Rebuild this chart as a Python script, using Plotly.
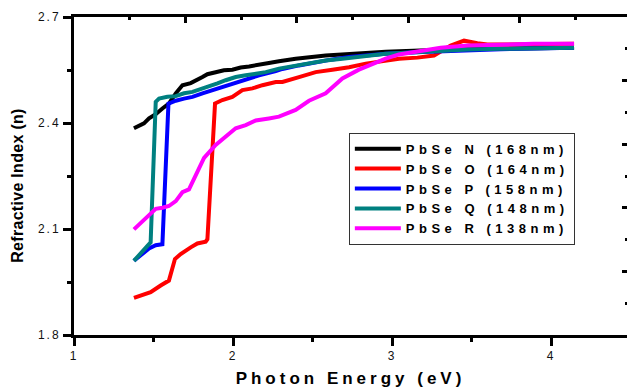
import plotly.graph_objects as go

# ---- data ----
names = ["PbSe N (168nm)", "PbSe O (164nm)", "PbSe P (158nm)", "PbSe Q (148nm)", "PbSe R (138nm)"]
colors = ["#000000", "#FF0000", "#0000FF", "#008080", "#FF00FF"]

n_E = [1.377, 1.409, 1.440, 1.472, 1.514, 1.556, 1.597, 1.640, 1.682, 1.734, 1.776, 1.808, 1.839,
       1.891, 1.943, 1.996, 2.048, 2.101, 2.164, 2.226, 2.289, 2.394, 2.583, 2.730, 2.835, 2.960,
       3.149, 3.306, 3.474, 3.684, 3.893, 4.145]
n_n = [2.385, 2.391, 2.399, 2.413, 2.425, 2.441, 2.455, 2.484, 2.507, 2.513, 2.521, 2.530, 2.538,
       2.543, 2.549, 2.551, 2.557, 2.560, 2.566, 2.570, 2.575, 2.582, 2.591, 2.594, 2.598, 2.602,
       2.606, 2.607, 2.609, 2.610, 2.612, 2.613]

o_E = [1.377, 1.482, 1.545, 1.597, 1.635, 1.671, 1.734, 1.776, 1.828, 1.839, 1.887, 1.933, 1.996,
       2.059, 2.122, 2.185, 2.269, 2.311, 2.415, 2.520, 2.625, 2.730, 2.835, 2.940, 3.044, 3.160,
       3.264, 3.369, 3.453, 3.537, 3.600, 3.684, 3.893, 4.145]
o_n = [1.905, 1.921, 1.940, 1.954, 2.015, 2.029, 2.048, 2.059, 2.064, 2.071, 2.455, 2.465, 2.474,
       2.493, 2.498, 2.507, 2.516, 2.516, 2.530, 2.544, 2.551, 2.558, 2.568, 2.575, 2.582, 2.585,
       2.591, 2.619, 2.633, 2.626, 2.622, 2.622, 2.624, 2.624]

p_E = [1.377, 1.430, 1.472, 1.514, 1.556, 1.594, 1.640, 1.692, 1.745, 1.808, 1.870, 1.933, 2.017,
       2.080, 2.164, 2.269, 2.311, 2.415, 2.520, 2.625, 2.730, 2.835, 2.960, 3.149, 3.306, 3.474,
       3.684, 3.893, 4.145]
p_n = [2.010, 2.029, 2.045, 2.054, 2.057, 2.455, 2.463, 2.469, 2.474, 2.484, 2.493, 2.502, 2.512,
       2.521, 2.535, 2.547, 2.553, 2.563, 2.572, 2.580, 2.587, 2.591, 2.596, 2.600, 2.603, 2.607,
       2.609, 2.611, 2.613]

q_E = [1.377, 1.419, 1.462, 1.482, 1.514, 1.535, 1.587, 1.640, 1.692, 1.745, 1.797, 1.849, 1.902,
       1.954, 2.017, 2.080, 2.164, 2.206, 2.289, 2.394, 2.499, 2.583, 2.688, 2.772, 2.835, 2.960,
       3.149, 3.264, 3.474, 3.684, 3.893, 4.145]
q_n = [2.010, 2.029, 2.052, 2.062, 2.460, 2.469, 2.474, 2.476, 2.484, 2.488, 2.495, 2.502, 2.512,
       2.521, 2.530, 2.535, 2.541, 2.544, 2.554, 2.563, 2.570, 2.577, 2.582, 2.586, 2.591, 2.596,
       2.600, 2.603, 2.608, 2.610, 2.612, 2.613]

r_E = [1.377, 1.409, 1.451, 1.514, 1.556, 1.597, 1.640, 1.682, 1.723, 1.765, 1.818, 1.891, 1.954,
       2.017, 2.080, 2.143, 2.226, 2.289, 2.394, 2.478, 2.583, 2.688, 2.792, 2.877, 2.960, 3.044,
       3.181, 3.306, 3.474, 3.684, 3.893, 4.145]
r_n = [2.099, 2.113, 2.132, 2.157, 2.160, 2.165, 2.179, 2.204, 2.212, 2.249, 2.301, 2.338, 2.362,
       2.385, 2.394, 2.407, 2.413, 2.418, 2.437, 2.463, 2.484, 2.526, 2.551, 2.568, 2.582, 2.594,
       2.603, 2.613, 2.619, 2.622, 2.624, 2.624]

x_ticks = [1, 2, 3, 4]
x_minor = [1.5, 2.5, 3.5]
y_ticks = [1.8, 2.1, 2.4, 2.7]
y_minor = [1.95, 2.25, 2.55]

x_title = "Photon Energy (eV)"
y_title = "Refractive Index (n)"

series = [(n_E, n_n), (o_E, o_n), (p_E, p_n), (q_E, q_n), (r_E, r_n)]

FONT = "Liberation Sans, Arial, sans-serif"

def spaced(txt, px):
    return '<span style="letter-spacing:%spx">%s</span>' % (px, txt)

fig = go.Figure()
for (xs, ys), nm, c in zip(series, names, colors):
    fig.add_trace(go.Scatter(x=xs, y=ys, mode="lines", name=spaced(nm, 4.5),
                             line=dict(color=c, width=4)))

# invisible trace to create mirrored top/right axes
fig.add_trace(go.Scatter(x=[None], y=[None], xaxis="x2", yaxis="y2", showlegend=False,
                         hoverinfo="skip"))

fig.add_annotation(text=spaced(y_title, 0.3), xref="paper", yref="paper",
                   x=-0.102, y=0.468, xanchor="center", yanchor="middle",
                   textangle=-90, showarrow=False,
                   font=dict(family=FONT, size=16, weight="bold", color="#000000"))

fig.update_layout(
    width=627, height=390,
    margin=dict(l=74, r=0, t=17, b=55),
    paper_bgcolor="white", plot_bgcolor="white",
    font=dict(family=FONT, color="#000000"),
    showlegend=True,
    legend=dict(x=0.497, y=0.636, xanchor="left", yanchor="top",
                bordercolor="#333333", borderwidth=1, bgcolor="white",
                font=dict(family=FONT, size=13, weight="bold", color="#000000"),
                itemwidth=46, tracegroupgap=0),
    xaxis=dict(range=[1, 1 + 553 / 159.0], showgrid=False, zeroline=False,
               showline=True, linecolor="black", linewidth=3,
               tickmode="array", tickvals=x_ticks,
               ticktext=[spaced(str(v), 2) for v in x_ticks],
               ticks="outside", ticklen=8, tickwidth=3, tickcolor="black",
               tickfont=dict(family=FONT, size=12, color="#111111"),
               minor=dict(tickvals=x_minor, ticks="outside", ticklen=4, tickwidth=3, tickcolor="black", showgrid=False),
               title=dict(text=spaced(x_title, 4),
                          font=dict(family=FONT, size=17, weight="bold"), standoff=10)),
    yaxis=dict(range=[1.8, 2.7], showgrid=False, zeroline=False,
               showline=True, linecolor="black", linewidth=3,
               tickmode="array", tickvals=y_ticks,
               ticktext=[spaced("%.1f" % v, 2) for v in y_ticks],
               ticks="outside", ticklen=8, tickwidth=3, tickcolor="black",
               tickfont=dict(family=FONT, size=12, color="#111111"),
               minor=dict(tickvals=y_minor, ticks="outside", ticklen=4, tickwidth=3, tickcolor="black", showgrid=False)),
    xaxis2=dict(overlaying="x", side="top", range=[0, 553 / 111.4], showgrid=False, zeroline=False,
                showline=True, linecolor="black", linewidth=3, showticklabels=False,
                tickmode="linear", tick0=0, dtick=1, ticks="inside", ticklen=6, tickwidth=3, tickcolor="black",
                minor=dict(dtick=0.5, ticks="inside", ticklen=3, tickwidth=3, tickcolor="black", showgrid=False)),
    yaxis2=dict(overlaying="y", side="right", range=[0, 10], showgrid=False, zeroline=False,
                showline=False, showticklabels=False,
                tickmode="linear", tick0=0, dtick=2, ticks="inside", ticklen=5, tickwidth=3, tickcolor="black",
                minor=dict(dtick=1, ticks="inside", ticklen=2, tickwidth=3, tickcolor="black", showgrid=False)),
)
fig.write_html("out.html")
